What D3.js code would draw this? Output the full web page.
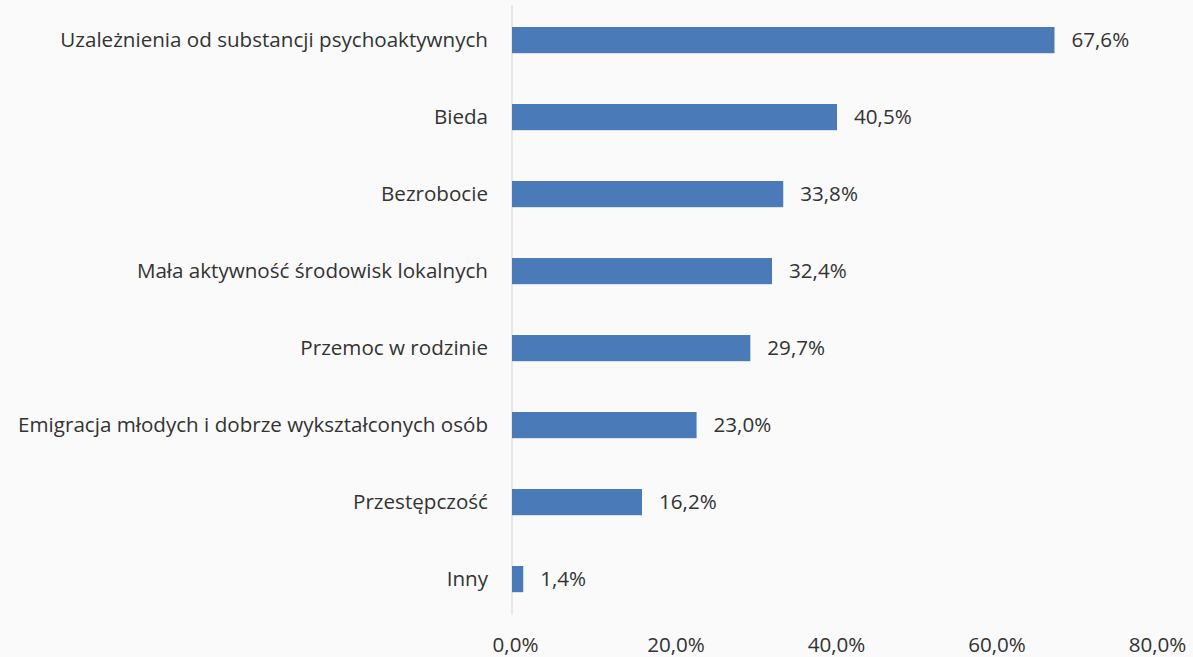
<!DOCTYPE html>
<html>
<head>
<meta charset="utf-8">
<script src="https://cdn.jsdelivr.net/npm/d3@7"></script>
<style>
  html, body { margin: 0; padding: 0; background: #fafafa; }
  svg { display: block; }
</style>
</head>
<body>
<svg id="chart"></svg>
<script>
const categories = [
  'Uzależnienia od substancji psychoaktywnych',
  'Bieda',
  'Bezrobocie',
  'Mała aktywność środowisk lokalnych',
  'Przemoc w rodzinie',
  'Emigracja młodych i dobrze wykształconych osób',
  'Przestępczość',
  'Inny'
];
const values = [67.6, 40.5, 33.8, 32.4, 29.7, 23.0, 16.2, 1.4];
const tickValues = [0, 20, 40, 60, 80];

const width = 1193;
const height = 657;
const fontFamily = '"Open Sans", "Noto Sans", sans-serif';
const fontSize = 20.6;
const textColor = '#333';
const barColor = '#4a7bb8';

const fmt = (v) => d3.format('.1f')(v).replace('.', ',') + '%';

const svg = d3.select('#chart')
  .attr('width', width)
  .attr('height', height)
  .attr('font-family', fontFamily);

const x = d3.scaleLinear().domain([0, 80]).range([512, 1154]);

// band step ~77px, bars ~26px tall
const y = d3.scaleBand()
  .domain(categories)
  .range([1.6, 617.6])
  .paddingInner(0.66)
  .paddingOuter(0.33);

// vertical axis line
svg.append('line')
  .attr('x1', x(0)).attr('x2', x(0))
  .attr('y1', 5).attr('y2', 615)
  .attr('stroke', '#d6d6d6')
  .attr('stroke-width', 1);

// bars
svg.append('g')
  .selectAll('rect')
  .data(values)
  .join('rect')
  .attr('x', x(0))
  .attr('y', (d, i) => y(categories[i]))
  .attr('width', (d) => x(d) - x(0))
  .attr('height', y.bandwidth())
  .attr('fill', barColor);

// category labels
svg.append('g')
  .attr('font-size', fontSize)
  .attr('fill', textColor)
  .attr('text-anchor', 'end')
  .selectAll('text')
  .data(categories)
  .join('text')
  .attr('x', x(0) - 24)
  .attr('y', (d) => y(d) + y.bandwidth() / 2)
  .attr('dy', '0.35em')
  .text((d) => d);

// value labels
svg.append('g')
  .attr('font-size', fontSize)
  .attr('fill', textColor)
  .selectAll('text')
  .data(values)
  .join('text')
  .attr('x', (d) => x(d) + 17)
  .attr('y', (d, i) => y(categories[i]) + y.bandwidth() / 2)
  .attr('dy', '0.35em')
  .text((d) => fmt(d));

// bottom tick labels (no axis line)
const axis = d3.axisBottom(x)
  .tickValues(tickValues)
  .tickFormat(fmt)
  .tickSize(0)
  .tickPadding(0);

svg.append('g')
  .attr('transform', 'translate(3,645)')
  .call(axis)
  .call((g) => g.select('.domain').remove())
  .call((g) => g.selectAll('text')
    .attr('font-family', fontFamily)
    .attr('font-size', fontSize)
    .attr('fill', textColor)
    .attr('dy', '0.35em'));
</script>
</body>
</html>
